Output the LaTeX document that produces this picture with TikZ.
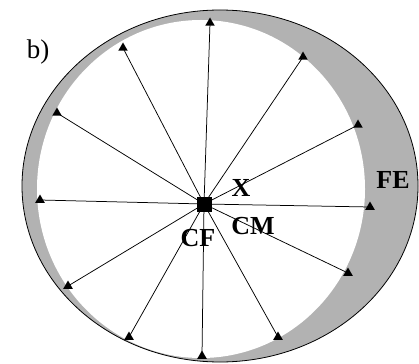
\documentclass[tikz,border=0pt]{standalone}
\usepackage{fontspec}
\setmainfont{Liberation Serif}
\usetikzlibrary{shapes.geometric}

\tikzset{
  tri/.style={regular polygon,regular polygon sides=3,fill=black,inner sep=0pt,minimum size=11pt},
  lbl/.style={font=\fontsize{26}{30}\selectfont\bfseries,inner sep=0pt}
}

\begin{document}
\begin{tikzpicture}[x=1pt,y=-1pt,line width=0.75pt]
  \useasboundingbox (0,0) rectangle (419,363);
  % anillo gris
  \fill[black!30] (220,186) ellipse [x radius=198,y radius=176];
  \fill[white] (201,189) ellipse [x radius=164,y radius=169];
  \draw[line width=0.8pt] (220,186) ellipse [x radius=198,y radius=176];
  % centro y extremos
  \node[fill=black,inner sep=0pt,minimum size=15pt] (cf) at (204,204) {};
  \foreach \n/\x/\y in {1/210/23,2/123/48,3/303/57,4/57/113,5/358/125,6/40/200,
                        7/370/207,8/68/286,9/348/273,10/129/337,11/278/337,12/202/356}
    \node[tri] (t\n) at (\x,\y) {};
  \foreach \n in {1,...,12} \draw (cf.center)--(t\n.center);
  % rotulos
  \node[font=\fontsize{27}{32}\selectfont,inner sep=0pt] (lb) at (38,52) {b)};
  \node[lbl] (lx) at (241,188) {X};
  \node[lbl] (lcm) at (253,226) {CM};
  \node[lbl] (lcf) at (198,238) {CF};
  \node[lbl] (lfe) at (393,180) {FE};
\end{tikzpicture}
\end{document}
